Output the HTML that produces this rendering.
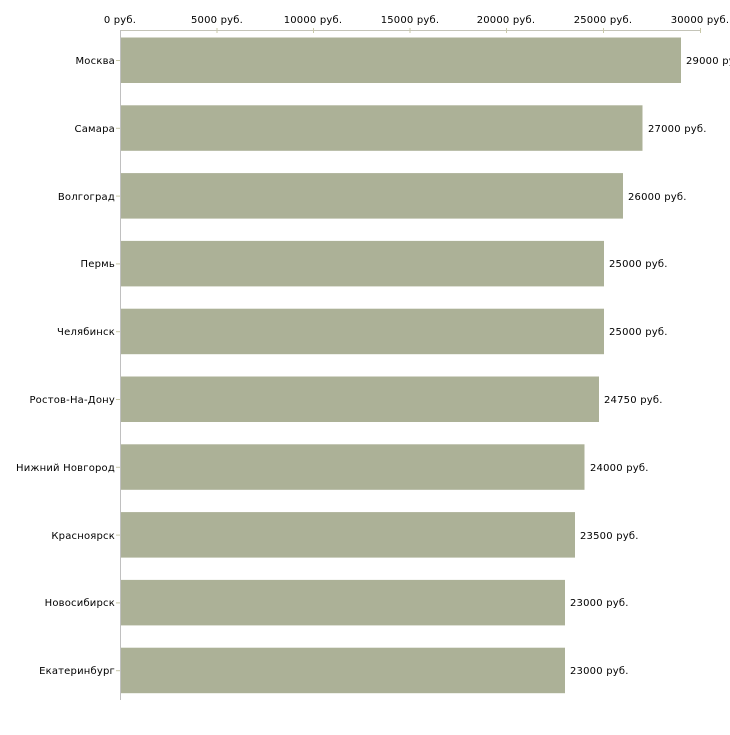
<!DOCTYPE html>
<html><head><meta charset="utf-8"><style>body{margin:0;background:#fff}svg text{font-family:"DejaVu Sans","Liberation Sans",sans-serif;font-size:10px;letter-spacing:0.2px;fill:#000}</style></head><body>
<svg width="730" height="730" xmlns="http://www.w3.org/2000/svg">
<line x1="120" y1="30.5" x2="700" y2="30.5" stroke="#c4c4b8"/>
<line x1="120.5" y1="30" x2="120.5" y2="700" stroke="#c0c0c0"/>
<g stroke="#c8c8a8">
<line x1="217" y1="28" x2="217" y2="33"/><line x1="313.5" y1="28" x2="313.5" y2="33"/><line x1="410" y1="28" x2="410" y2="33"/><line x1="506.5" y1="28" x2="506.5" y2="33"/><line x1="603.5" y1="28" x2="603.5" y2="33"/><line x1="700.5" y1="28" x2="700.5" y2="33"/>
</g>
<g text-anchor="middle">
<text x="120" y="23">0 руб.</text><text x="217" y="23">5000 руб.</text><text x="313" y="23">10000 руб.</text><text x="410" y="23">15000 руб.</text><text x="506" y="23">20000 руб.</text><text x="603" y="23">25000 руб.</text><text x="700" y="23">30000 руб.</text>
</g>
<g fill="#acb197">
<rect x="121" y="37.5" width="560" height="45.5"/>
<rect x="121" y="105.3" width="521.5" height="45.5"/>
<rect x="121" y="173.1" width="502" height="45.5"/>
<rect x="121" y="240.9" width="483" height="45.5"/>
<rect x="121" y="308.7" width="483" height="45.5"/>
<rect x="121" y="376.5" width="478" height="45.5"/>
<rect x="121" y="444.3" width="463.5" height="45.5"/>
<rect x="121" y="512.1" width="454" height="45.5"/>
<rect x="121" y="579.9" width="444" height="45.5"/>
<rect x="121" y="647.7" width="444" height="45.5"/>
</g>
<g stroke="#c8c8a8">
<line x1="116" y1="60.5" x2="120" y2="60.5"/><line x1="116" y1="128.3" x2="120" y2="128.3"/><line x1="116" y1="196.1" x2="120" y2="196.1"/><line x1="116" y1="263.9" x2="120" y2="263.9"/><line x1="116" y1="331.7" x2="120" y2="331.7"/><line x1="116" y1="399.5" x2="120" y2="399.5"/><line x1="116" y1="467.3" x2="120" y2="467.3"/><line x1="116" y1="535.1" x2="120" y2="535.1"/><line x1="116" y1="602.9" x2="120" y2="602.9"/><line x1="116" y1="670.7" x2="120" y2="670.7"/>
</g>
<g text-anchor="end">
<text x="115" y="64">Москва</text><text x="115" y="132">Самара</text><text x="115" y="200">Волгоград</text><text x="115" y="267">Пермь</text><text x="115" y="335">Челябинск</text><text x="115" y="403">Ростов-На-Дону</text><text x="115" y="471">Нижний Новгород</text><text x="115" y="539">Красноярск</text><text x="115" y="606">Новосибирск</text><text x="115" y="674">Екатеринбург</text>
</g>
<text x="686" y="64">29000 руб.</text>
<text x="648" y="132">27000 руб.</text>
<text x="628" y="200">26000 руб.</text>
<text x="609" y="267">25000 руб.</text>
<text x="609" y="335">25000 руб.</text>
<text x="604" y="403">24750 руб.</text>
<text x="590" y="471">24000 руб.</text>
<text x="580" y="539">23500 руб.</text>
<text x="570" y="606">23000 руб.</text>
<text x="570" y="674">23000 руб.</text>
</svg>
</body></html>
